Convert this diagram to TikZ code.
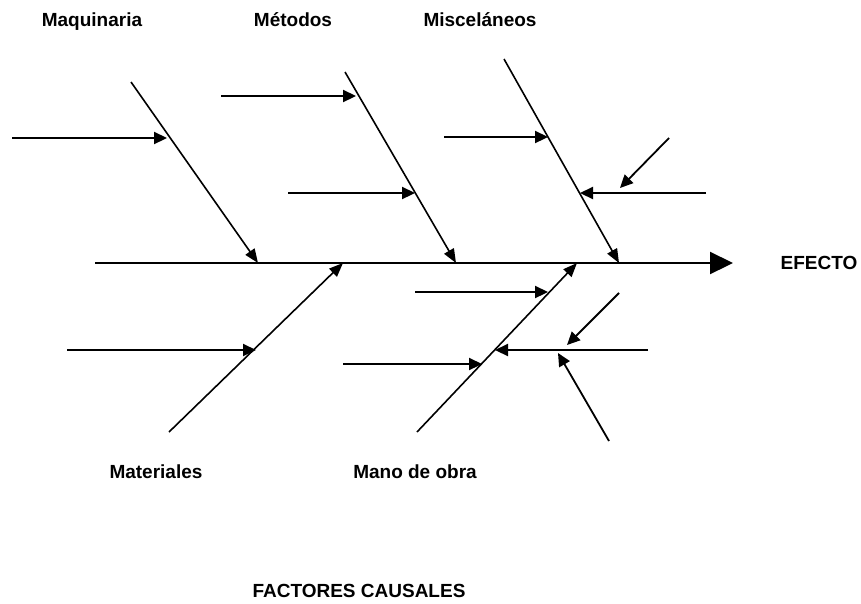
\documentclass[tikz,border=0pt]{standalone}
\usepackage{fontspec}
\setmainfont{Liberation Sans}
\usetikzlibrary{arrows.meta}
\begin{document}
\begin{tikzpicture}[x=1pt,y=-1pt,
  label/.style={font=\fontsize{19}{22}\selectfont\bfseries, inner sep=0pt, anchor=base},
  spine/.style={line width=2.2pt, -{Triangle[length=23pt,width=22pt]}},
  bone/.style={line width=1.6pt, -{Triangle[length=14pt,width=11pt]}},
  cause/.style={line width=2.2pt, -{Triangle[length=13pt,width=12pt]}},
  subcause/.style={line width=1.8pt, -{Triangle[length=13pt,width=12pt]}}]
\useasboundingbox (0,0) rectangle (861,603);

% main axis
\coordinate (s0) at (95,263);
\coordinate (s1) at (733,263);
\draw[spine] (s0) -- (s1);
\node[label] (efecto) at (819,269.5) {EFECTO};

% upper bones
\coordinate (maq0) at (131,82);   \coordinate (maq1) at (258,263);
\coordinate (met0) at (345,72);   \coordinate (met1) at (456,263);
\coordinate (mis0) at (504,59);   \coordinate (mis1) at (619,263);
\draw[bone] (maq0) -- (maq1);
\draw[bone] (met0) -- (met1);
\draw[bone] (mis0) -- (mis1);

% lower bones
\coordinate (mat0) at (169,432);  \coordinate (mat1) at (343,263);
\coordinate (mdo0) at (417,432);  \coordinate (mdo1) at (577,263);
\draw[bone] (mat0) -- (mat1);
\draw[bone] (mdo0) -- (mdo1);

% causes on the upper bones
\coordinate (a0) at (12,138);   \coordinate (a1) at (167,138);
\coordinate (b0) at (221,96);   \coordinate (b1) at (356,96);
\coordinate (c0) at (288,193);  \coordinate (c1) at (415,193);
\coordinate (d0) at (444,137);  \coordinate (d1) at (548,137);
\coordinate (e0) at (706,193);  \coordinate (e1) at (580,193);
\coordinate (f0) at (669,138);  \coordinate (f1) at (620,188);
\draw[cause] (a0) -- (a1);
\draw[cause] (b0) -- (b1);
\draw[cause] (c0) -- (c1);
\draw[cause] (d0) -- (d1);
\draw[cause] (e0) -- (e1);
\draw[subcause] (f0) -- (f1);

% causes on the lower bones
\coordinate (g0) at (67,350);   \coordinate (g1) at (256,350);
\coordinate (h0) at (415,292);  \coordinate (h1) at (548,292);
\coordinate (i0) at (343,364);  \coordinate (i1) at (482,364);
\coordinate (j0) at (648,350);  \coordinate (j1) at (495,350);
\coordinate (k0) at (619,293);  \coordinate (k1) at (567,345);
\coordinate (l0) at (609,441);  \coordinate (l1) at (558,353);
\draw[cause] (g0) -- (g1);
\draw[cause] (h0) -- (h1);
\draw[cause] (i0) -- (i1);
\draw[cause] (j0) -- (j1);
\draw[subcause] (k0) -- (k1);
\draw[subcause] (l0) -- (l1);

% category labels
\node[label] (lmaq) at (92,26.5) {Maquinaria};
\node[label] (lmet) at (293,26.5) {Métodos};
\node[label] (lmis) at (480,26.5) {Misceláneos};
\node[label] (lmat) at (156,478.5) {Materiales};
\node[label] (lmdo) at (415,478.5) {Mano de obra};
\node[label] (lfac) at (359,597.5) {FACTORES CAUSALES};
\end{tikzpicture}
\end{document}
